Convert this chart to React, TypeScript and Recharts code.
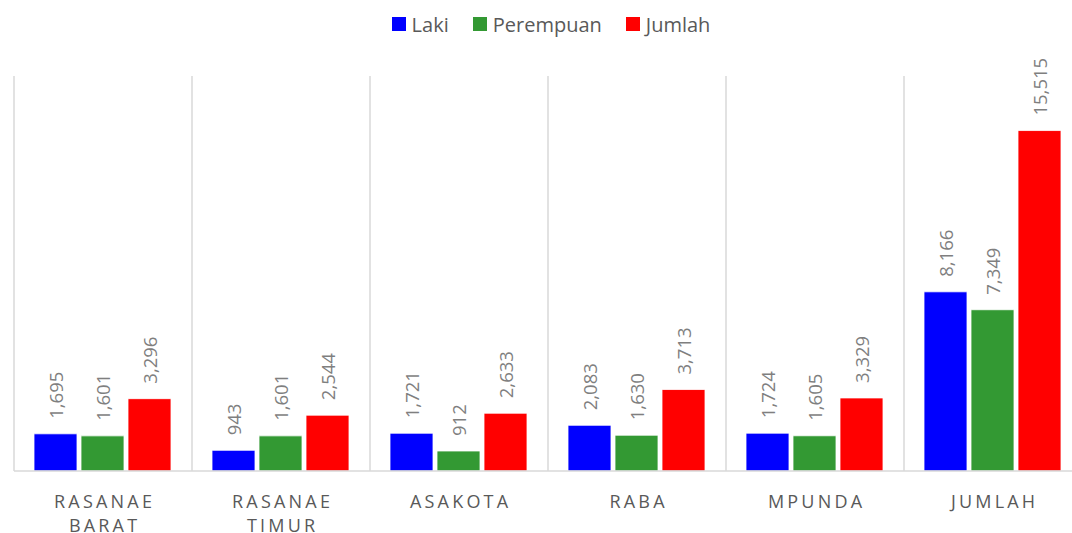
import { BarChart, Bar, XAxis, YAxis, CartesianGrid, Legend, LabelList } from 'recharts';

const categories = ['RASANAE BARAT', 'RASANAE TIMUR', 'ASAKOTA', 'RABA', 'MPUNDA', 'JUMLAH'];
const laki = [1695, 943, 1721, 2083, 1724, 8166];
const perempuan = [1601, 1601, 912, 1630, 1605, 7349];
const jumlah = [3296, 2544, 2633, 3713, 3329, 15515];

const seriesKeys = ['laki', 'perempuan', 'jumlah'];
const seriesNames = ['Laki', 'Perempuan', 'Jumlah'];
const seriesColors = ['#0000ff', '#339933', '#ff0000'];

const data = categories.map((name, i) => ({
  name,
  laki: laki[i],
  perempuan: perempuan[i],
  jumlah: jumlah[i],
}));

const FONT = '"Open Sans", sans-serif';

function CategoryTick({ x, y, payload }: { x: number; y: number; payload: { value: string } }) {
  const words = String(payload.value).split(' ');
  return (
    <g transform={`translate(${x},${y})`}>
      {words.map((w, i) => (
        <text
          key={i}
          x={1.6}
          y={35 + i * 24}
          textAnchor="middle"
          fill="#595959"
          fontFamily={FONT}
          fontSize={18}
          letterSpacing={3.2}
        >
          {w}
        </text>
      ))}
    </g>
  );
}

function ValueLabel(props: any) {
  const { x, y, width, value } = props;
  const cx = Number(x) + Number(width) / 2;
  const ty = Number(y) - 15;
  return (
    <text
      x={cx}
      y={ty}
      transform={`rotate(-90 ${cx} ${ty})`}
      textAnchor="start"
      dominantBaseline="central"
      fill="#7f7f7f"
      fontFamily={FONT}
      fontSize={18.5}
    >
      {Number(value).toLocaleString('en-US')}
    </text>
  );
}

function LegendContent() {
  return (
    <div style={{ height: 76, boxSizing: 'border-box', paddingTop: 10, paddingLeft: 6, display: 'flex', justifyContent: 'center', gap: 24, fontFamily: FONT }}>
      {seriesNames.map((n, i) => (
        <div key={n} style={{ display: 'flex', alignItems: 'center', height: 28 }}>
          <span style={{ display: 'inline-block', width: 14, height: 14, background: seriesColors[i], marginRight: 6 }} />
          <span style={{ fontSize: 20, color: '#595959' }}>{n}</span>
        </div>
      ))}
    </div>
  );
}

export default function App() {
  return (
    <div style={{ position: 'fixed', left: 0, top: 0, width: 1072, height: 533, overflow: 'hidden', background: '#fff' }}>
      <BarChart
        width={1096}
        height={533}
        data={data}
        margin={{ top: 0, right: 14, bottom: 0, left: 14 }}
        barCategoryGap={20}
        barGap={4}
      >
        <CartesianGrid
          horizontal={false}
          stroke="#d9d9d9"
          strokeWidth={1.5}
          verticalCoordinatesGenerator={({ offset }: any) =>
            categories
              .map((_, i) => offset.left + (i * offset.width) / categories.length)
              .concat(offset.left + offset.width)
          }
        />
        <XAxis
          dataKey="name"
          height={62}
          interval={0}
          tickLine={false}
          tickSize={0}
          axisLine={{ stroke: '#d9d9d9', strokeWidth: 1.5 }}
          tick={CategoryTick as any}
        />
        <YAxis hide domain={[0, 18000]} />
        <Legend verticalAlign="top" align="center" content={<LegendContent />} />
        {seriesKeys.map((k, i) => (
          <Bar
            key={k}
            dataKey={k}
            name={seriesNames[i]}
            fill={seriesColors[i]}
            stroke="#ffffff"
            strokeWidth={0.8}
            isAnimationActive={false}
          >
            <LabelList dataKey={k} content={ValueLabel} />
          </Bar>
        ))}
      </BarChart>
    </div>
  );
}
